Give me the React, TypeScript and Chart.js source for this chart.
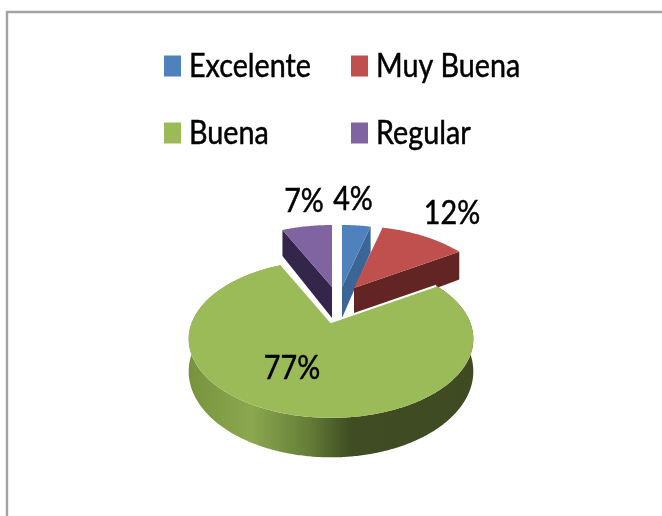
import React, { useEffect, useRef } from "react";
import { Chart, registerables } from "chart.js";

Chart.register(...registerables);

const categories = ["Excelente", "Muy Buena", "Buena", "Regular"];
const percentages = [4, 12, 77, 7];
const topColors = ["#4F81BD", "#C0504D", "#9BBB59", "#8064A2"];
const wallColors = ["#3A6596", "#632523", "#4F6228", "#33264A"];

// Drawing style: projected-disc geometry
const apexes: [number, number][] = [[342, 287], [354, 288], [331, 322], [332, 287]];
const RX = 139, RY = 75.3, PERSP = 0.2146, DEPTH = 31;
const labelSpots: [number, number][] = [[353, 199], [452, 213], [292, 368], [304, 201]];
const legendSpots: [number, number][] = [[164, 66], [351, 66], [164, 133], [351, 133]];
const FONT_SQUEEZE = 0.87;

function project(i: number, theta: number, r: number, down: number) {
  const w = 1 + PERSP * Math.cos(theta) * r;
  const [ax, ay] = apexes[i];
  return [
    ax + (RX * r * Math.sin(theta)) / w,
    ay - (RY * r * Math.cos(theta)) / w + (down ? DEPTH / w : 0),
  ];
}

function poly(ctx: CanvasRenderingContext2D, pts: number[][]) {
  ctx.beginPath();
  pts.forEach((p, k) => (k ? ctx.lineTo(p[0], p[1]) : ctx.moveTo(p[0], p[1])));
  ctx.closePath();
}

function rim(i: number, a: number, b: number, down: number) {
  const pts: number[][] = [];
  const n = Math.max(2, Math.ceil((b - a) / 0.01));
  for (let k = 0; k <= n; k++) pts.push(project(i, a + ((b - a) * k) / n, 1, down));
  return pts;
}

const pie3d = {
  id: "pie3d",
  beforeDraw(chart: any) {
    const ctx = chart.ctx;
    ctx.save();
    ctx.fillStyle = "#ffffff";
    ctx.fillRect(0, 0, chart.width, chart.height);
    ctx.strokeStyle = "#a3a3a3";
    ctx.lineWidth = 2.4;
    ctx.beginPath();
    ctx.moveTo(7, chart.height);
    ctx.lineTo(7, 12);
    ctx.lineTo(chart.width, 12);
    ctx.stroke();
    ctx.restore();
  },
  beforeDatasetDraw(chart: any) {
    const ctx = chart.ctx;
    const arcs = chart.getDatasetMeta(0).data;
    const angle = (i: number) => [arcs[i].startAngle + Math.PI / 2, arcs[i].endAngle + Math.PI / 2];
    ctx.save();
    ctx.lineJoin = "round";
    // back slices: radial wall, then top face
    [0, 1, 3].forEach((i) => {
      const [a, b] = angle(i);
      const edge = i === 3 ? a : b;
      ctx.fillStyle = wallColors[i];
      poly(ctx, [project(i, 0, 0, 0), project(i, edge, 1, 0), project(i, edge, 1, 1), project(i, 0, 0, 1)]);
      ctx.fill();
      ctx.fillStyle = topColors[i];
      poly(ctx, [project(i, 0, 0, 0), ...rim(i, a, b, 0)]);
      ctx.fill();
    });
    // front slice: curved wall with horizontal shading, then top face
    const [a, b] = angle(2);
    const g = ctx.createLinearGradient(187, 0, 473, 0);
    g.addColorStop(0, "#76923C");
    g.addColorStop(0.22, "#8CA84F");
    g.addColorStop(0.42, "#667F38");
    g.addColorStop(0.57, "#3F4D23");
    g.addColorStop(1, "#3F4A23");
    ctx.fillStyle = g;
    poly(ctx, [...rim(2, a, b, 0), ...rim(2, a, b, 1).reverse()]);
    ctx.fill();
    const edgeA = project(2, a, 1, 0), edgeB = project(2, b, 1, 0), apex = project(2, 0, 0, 0);
    ctx.fillStyle = topColors[2];
    poly(ctx, [apex, ...rim(2, a, b, 0)]);
    ctx.fill();
    ctx.strokeStyle = "#ffffff";
    ctx.lineWidth = 2;
    ctx.beginPath();
    ctx.moveTo(edgeA[0], edgeA[1]);
    ctx.lineTo(apex[0], apex[1]);
    ctx.lineTo(edgeB[0], edgeB[1]);
    ctx.stroke();
    ctx.restore();
    return false;
  },
  afterDatasetsDraw(chart: any) {
    const ctx = chart.ctx;
    const draw = (t: string, x: number, y: number, align: CanvasTextAlign) => {
      ctx.textAlign = align;
      const w = ctx.measureText(t).width * FONT_SQUEEZE;
      ctx.fillText(t, x, y, w);
      ctx.strokeText(t, x, y, w);
    };
    ctx.save();
    ctx.fillStyle = "#000000";
    ctx.strokeStyle = "#000000";
    ctx.lineWidth = 0.5;
    ctx.textBaseline = "middle";
    ctx.font = "33px Lato";
    percentages.forEach((v, i) => draw(`${v}%`, labelSpots[i][0], labelSpots[i][1], "center"));
    categories.forEach((c, i) => {
      const [x, y] = legendSpots[i];
      ctx.fillStyle = topColors[i];
      ctx.fillRect(x, y - 10.5, 17, 21);
      ctx.fillStyle = "#000000";
      draw(c, x + 25, y, "left");
    });
    ctx.restore();
  },
};

export default function App() {
  const ref = useRef<HTMLCanvasElement>(null);
  useEffect(() => {
    const chart = new Chart(ref.current!, {
      type: "pie",
      data: {
        labels: categories,
        datasets: [{ data: percentages, backgroundColor: topColors, borderWidth: 0 }],
      },
      options: {
        animation: false,
        responsive: false,
        plugins: { legend: { display: false }, tooltip: { enabled: false } },
      },
      plugins: [pie3d],
    } as any);
    return () => chart.destroy();
  }, []);
  return (
    <div style={{ position: "fixed", left: 0, top: 0, width: 662, height: 516, overflow: "hidden" }}>
      <canvas ref={ref} width={662} height={516} style={{ display: "block", filter: "blur(0.6px)" }} />
    </div>
  );
}
